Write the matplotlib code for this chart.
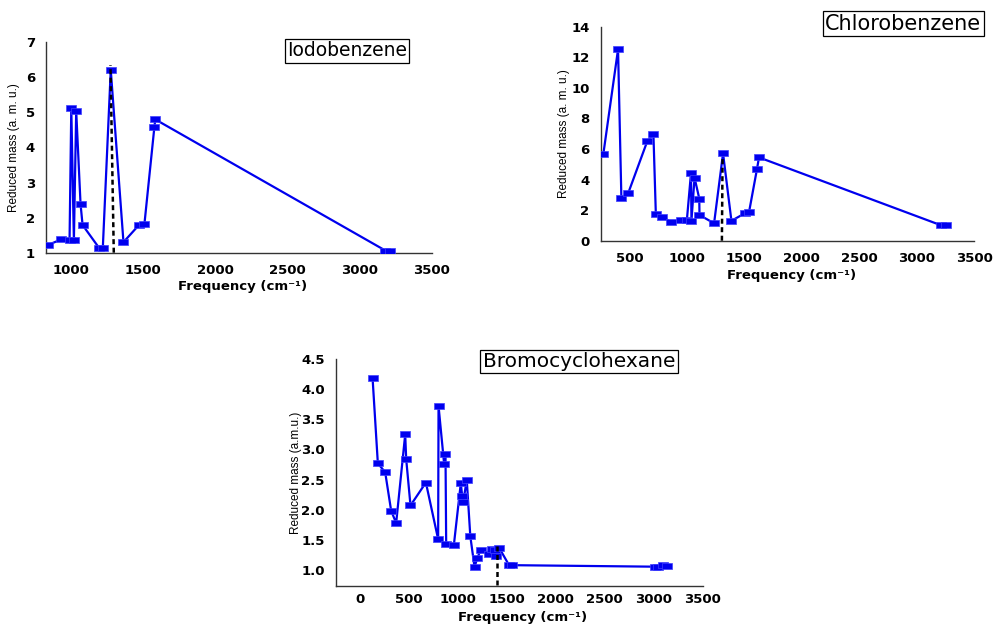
import matplotlib
matplotlib.use('Agg')
import matplotlib.pyplot as plt

# Iodobenzene
iodo_freq = [844, 936, 993, 1005, 1023, 1039, 1069, 1083, 1200, 1223, 1278,
             1366, 1471, 1511, 1580, 1586, 3178, 3212]
iodo_mass = [1.22, 1.38, 1.36, 5.12, 1.36, 5.04, 2.39, 1.79, 1.12, 1.13, 6.21,
             1.30, 1.78, 1.82, 4.59, 4.80, 1.06, 1.06]
iodo_mark_x = [1299, 1276]
iodo_mark_y = [1.0, 6.35]

# Chlorobenzene
chloro_freq = [273, 401, 430, 489, 655, 709, 730, 782, 865, 950, 1000, 1036,
               1040, 1067, 1108, 1110, 1237, 1315, 1388, 1504, 1541, 1611,
               1628, 3209, 3253]
chloro_mass = [5.67, 12.52, 2.79, 3.10, 6.50, 6.96, 1.74, 1.58, 1.20, 1.35,
               1.34, 4.41, 1.32, 4.12, 2.76, 1.68, 1.14, 5.71, 1.30, 1.79,
               1.86, 4.71, 5.45, 1.02, 1.02]
chloro_mark_x = [1305, 1311]
chloro_mark_y = [0.0, 5.5]

# Bromocyclohexane
bromo_freq = [133, 187, 262, 323, 374, 466, 476, 520, 677, 802, 806, 863, 877,
              884, 962, 1033, 1047, 1057, 1094, 1130, 1173, 1202, 1235, 1324,
              1350, 1377, 1394, 1427, 1525, 1558, 3014, 3048, 3099, 3133]
bromo_mass = [4.19, 2.77, 2.62, 1.98, 1.78, 3.25, 2.84, 2.07, 2.45, 1.51, 3.72,
              2.76, 2.92, 1.43, 1.41, 2.44, 2.23, 2.13, 2.49, 1.56, 1.05, 1.20,
              1.33, 1.27, 1.35, 1.34, 1.23, 1.36, 1.08, 1.08, 1.055, 1.055,
              1.08, 1.07]
bromo_mark_x = [1403, 1403]
bromo_mark_y = [0.75, 1.44]

BLUE = '#0000ee'
RECT = [(-1, -0.62), (1, -0.62), (1, 0.62), (-1, 0.62), (-1, -0.62)]


def draw_panel(ax, freq, mass, mark_x, mark_y, xlim, ylim, yticks, yfmt,
               ylabel, ylab_x, xlab_y, xpad=8):
    ax.plot(freq, mass, color=BLUE, lw=1.6, marker=RECT, ms=6.5,
            mfc=BLUE, mec='#4040ff', mew=0.5, zorder=3)
    ax.plot(mark_x, mark_y, color='black', lw=1.8, ls=(0, (2, 1.4)), zorder=4)
    ax.set_xlim(*xlim)
    ax.set_ylim(*ylim)
    ax.set_xticks([t for t in range(0, 3501, 500) if t >= xlim[0]])
    ax.set_yticks(yticks)
    ax.set_yticklabels([yfmt.format(t) for t in yticks])
    for s in ('top', 'right'):
        ax.spines[s].set_visible(False)
    for s in ('left', 'bottom'):
        ax.spines[s].set_color('#333333')
        ax.spines[s].set_linewidth(1.0)
    ax.tick_params(length=0, labelsize=9.5, pad=8)
    ax.tick_params(axis='x', pad=xpad)
    for lab in ax.get_xticklabels() + ax.get_yticklabels():
        lab.set_fontweight('bold')
    ax.set_ylabel(ylabel, family='Liberation Sans', fontsize=8.5)
    ax.yaxis.set_label_coords(ylab_x, 0.5)
    ax.set_xlabel('Frequency (cm\u207b\u00b9)', fontsize=9.5,
                  fontweight='bold')
    ax.xaxis.set_label_coords(0.51, xlab_y)


fig = plt.figure(figsize=(10.02, 6.27), dpi=100)

ax1 = fig.add_axes([0.0459, 0.597, 0.3852, 0.3356])
draw_panel(ax1, iodo_freq, iodo_mass, iodo_mark_x, iodo_mark_y,
           (830, 3500), (1, 7), [1, 2, 3, 4, 5, 6, 7], '{:d}',
           'Reduced mass (a. m. u.)', -0.067, -0.13)

ax2 = fig.add_axes([0.5995, 0.6161, 0.3726, 0.3413])
draw_panel(ax2, chloro_freq, chloro_mass, chloro_mark_x, chloro_mark_y,
           (250, 3500), (0, 14), [0, 2, 4, 6, 8, 10, 12, 14], '{:d}',
           'Reduced mass (a. m. u.)', -0.082, -0.13)

ax3 = fig.add_axes([0.3353, 0.0659, 0.366, 0.3616])
draw_panel(ax3, bromo_freq, bromo_mass, bromo_mark_x, bromo_mark_y,
           (-240, 3500), (0.74, 4.5), [1.0, 1.5, 2.0, 2.5, 3.0, 3.5, 4.0, 4.5],
           '{:.1f}', 'Reduced mass (a.m.u.)', -0.093, -0.11, xpad=5)

box = dict(boxstyle='square,pad=0.12', fc='white', ec='black', lw=0.9)
fig.text(347 / 1002, 1 - 51 / 627, 'Iodobenzene', ha='center', va='center',
         fontsize=13.5, bbox=box)
fig.text(825 / 1002, 1 - 23.5 / 627, 'Chlorobenzene', ha='left', va='center',
         fontsize=15, bbox=box)
fig.text(579 / 1002, 1 - 361.5 / 627, 'Bromocyclohexane', ha='center',
         va='center', fontsize=14.5, bbox=box)

fig.savefig('out.png', dpi=100)
